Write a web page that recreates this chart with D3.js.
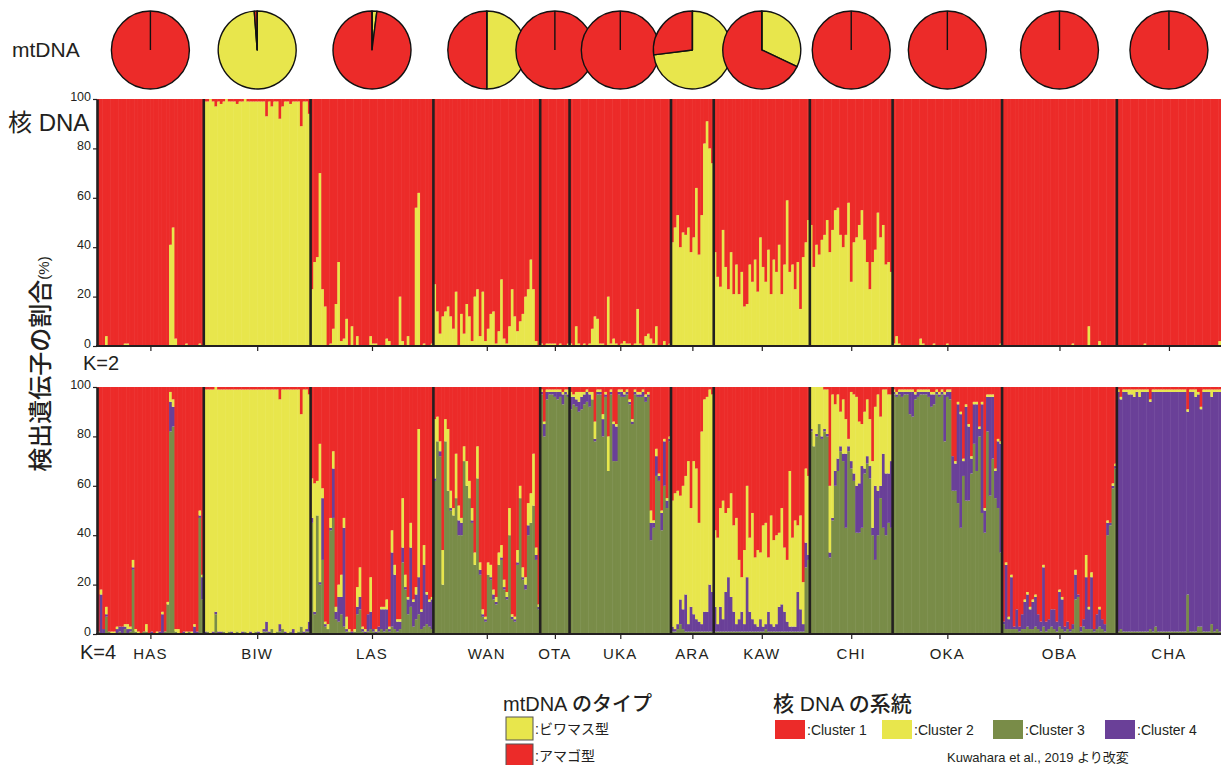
<!DOCTYPE html>
<html><head><meta charset="utf-8">
<script src="https://cdn.jsdelivr.net/npm/d3@7"></script>
<style>
body{margin:0;background:#fff;}
svg text{font-family:"Liberation Sans",Arial,"Noto Sans CJK JP",sans-serif;fill:#231f20;}
</style></head><body>
<svg id="c" width="1221" height="765"></svg>
<script>
// ---------------- DATA ----------------
const populations = ["HAS","BIW","LAS","WAN","OTA","UKA","ARA","KAW","CHI","OKA","OBA","CHA"];
// mtDNA: % of ビワマス型 (rest = アマゴ型)
const mtBiwamasu = [0,98.8,2,50,0,0,73,32,0,0,0,0];

// K=2: Cluster 2 (%) per individual; Cluster 1 = remainder
const K2_HAS = [0,0,0,4,0,0,0,0,0,0,1,1,0,0,0,0,0,0,0,0,0,0,0,0,0,0,0,41,48,3,0,0,0,1,0,0,0,0,1,0];
const K2_BIW = [99,99,100,99,97,99,98,99,100,99,99,99,98,99,99,100,99,99,99,99,99,99,99,93,99,97,99,99,92,97,99,99,98,99,99,99,89,99,99,94];
const K2_LAS = [23,34,36,70,23,16,0,1,7,17,34,2,3,11,0,8,0,4,0,0,0,0,4,1,1,0,0,0,3,2,0,0,0,20,2,0,4,0,0,56,62,0,1,0,0,1];
const K2_WAN = [25,14,5,12,14,16,12,7,22,0,13,5,17,12,2,20,23,4,22,2,7,13,14,1,6,27,3,1,8,23,12,6,10,13,20,23,35,23,2,0];
const K2_OTA = [1,0,1,1,1,1,0,1,0,0,1];
const K2_UKA = [1,0,8,1,0,1,0,1,7,12,11,1,1,0,20,1,3,1,0,1,2,1,1,0,1,15,1,0,4,5,3,1,8,0,0,2,0,1];
const K2_ARA = [42,48,53,40,46,45,48,38,44,64,37,53,82,91,80,74];
const K2_KAW = [38,28,24,47,32,23,38,21,33,21,30,16,17,33,26,35,22,44,32,26,39,21,35,30,41,21,33,59,30,33,23,34,15,36,42,51];
const K2_CHI = [49,32,41,37,43,45,51,38,47,55,56,45,40,45,58,26,42,44,49,55,43,34,23,34,39,54,44,49,33,34,30];
const K2_OKA = [1,4,1,0,0,0,0,0,0,0,3,1,0,0,0,1,0,0,0,0,1,0,0,0,0,0,0,0,0,0,0,0,0,0,0,0,0,0,0,0,1];
const K2_OBA = [0,0,0,0,0,0,0,0,0,0,0,0,0,0,0,0,0,0,0,0,0,0,0,0,0,0,1,0,0,0,0,0,8,0,0,0,2,0,0,0,0,0,0];
const K2_CHA = [0,0,0,0,0,0,0,0,0,0,1,0,0,0,0,0,0,0,0,0,0,0,0,0,0,0,0,0,0,0,0,0,0,0,0,0,0,0,2];

// K=4: per individual [Cluster 3, Cluster 4, Cluster 2] (%); Cluster 1 = remainder
const K4_HAS = [[1,0,0],[0,16,2],[0,2,0],[7,1,3],[1,0,0],[0,0,1],[0,0,1],[0,2,1],[1,2,0],[0,3,0],
 [2,1,1],[0,2,2],[1,1,1],[26,1,3],[1,0,1],[0,0,1],[0,0,0],[1,0,0],[1,0,3],[0,0,0],
 [0,1,0],[0,0,0],[0,0,1],[0,1,0],[0,8,1],[1,0,0],[12,0,1],[82,12,4],[84,8,3],[1,0,1],
 [0,0,2],[0,0,0],[0,1,0],[0,0,1],[1,0,0],[0,0,1],[0,3,1],[0,1,0],[47,1,2],[14,9,1]];
const K4_BIW = [[0,1,98],[1,0,98],[0,0,99],[0,1,98],[8,1,91],[0,1,98],[0,1,98],[1,0,98],[0,0,99],[1,0,98],
 [0,1,98],[0,0,99],[1,0,98],[0,0,99],[0,1,98],[1,0,98],[0,0,99],[0,1,98],[0,0,99],[1,0,98],
 [0,1,98],[0,0,99],[1,1,97],[1,4,94],[0,1,98],[2,0,97],[0,0,99],[1,0,98],[1,3,91],[2,0,97],
 [0,1,98],[0,0,99],[1,0,98],[0,2,97],[0,0,99],[1,0,98],[3,0,86],[0,1,98],[1,1,97],[1,4,92]];
const K4_LAS = [[45,2,16],[8,1,52],[48,0,14],[20,1,56],[30,25,4],[3,1,1],[2,0,2],[42,1,4],[47,20,7],[6,3,2],
 [5,10,5],[8,7,9],[3,40,4],[1,1,5],[1,0,1],[0,1,0],[1,0,1],[8,3,8],[10,5,12],[1,1,1],
 [0,1,1],[1,7,0],[2,7,14],[1,1,0],[0,1,1],[1,2,0],[2,8,1],[1,9,1],[2,8,4],[1,1,1],
 [3,30,9],[2,22,4],[1,4,1],[2,3,1],[29,6,20],[18,1,5],[8,6,1],[11,24,10],[3,10,1],[6,10,3],
 [8,15,60],[2,7,1],[3,25,8],[4,12,1],[3,10,1],[2,12,1]];
const K4_WAN = [[62,1,24],[78,0,10],[72,2,4],[20,0,14],[78,0,9],[58,0,25],[50,1,7],[48,0,3],[55,0,18],[40,6,6],
 [40,5,2],[70,0,6],[60,0,10],[55,0,7],[45,1,5],[28,0,5],[63,0,13],[24,2,3],[7,1,2],[5,1,1],
 [24,0,5],[22,1,5],[14,2,2],[12,1,2],[28,0,5],[30,1,5],[18,1,3],[14,1,2],[40,0,11],[6,1,1],
 [5,1,1],[28,1,5],[55,0,5],[22,1,4],[18,2,3],[40,4,9],[45,0,12],[52,0,21],[30,2,3],[10,1,1]];
const K4_OTA = [[97,1,1],[80,5,1],[95,3,1],[97,1,1],[97,1,1],[96,2,1],[95,3,1],[96,2,1],[93,4,1],[97,1,1],[96,1,2]];
const K4_UKA = [[91,5,2],[93,3,1],[92,3,3],[90,4,4],[91,5,2],[93,4,1],[94,4,1],[92,5,1],[95,0,3],[78,1,7],
 [97,1,1],[97,1,1],[80,7,2],[96,1,1],[66,0,14],[97,1,1],[70,15,1],[70,14,1],[97,1,1],[96,2,1],
 [96,1,1],[97,1,1],[93,1,1],[85,1,1],[97,1,1],[96,1,1],[96,1,1],[96,2,1],[94,2,1],[96,1,1],
 [38,7,5],[43,2,1],[64,8,3],[62,2,1],[42,7,1],[60,18,1],[51,3,1],[78,1,1]];
const K4_ARA = [[1,2,51],[1,1,55],[2,2,54],[4,10,42],[2,8,50],[1,15,48],[1,3,66],[1,10,40],[1,7,62],[1,5,61],
 [1,4,40],[1,3,78],[1,8,86],[1,8,87],[1,19,79],[1,16,80]];
const K4_KAW = [[1,10,31],[1,3,35],[1,10,40],[1,5,48],[1,16,32],[1,22,28],[1,14,42],[1,8,35],[1,3,43],[1,5,24],
 [1,8,14],[1,3,30],[1,22,37],[1,8,30],[1,5,43],[1,3,27],[1,2,31],[1,5,27],[1,2,41],[2,2,41],
 [1,8,22],[1,3,44],[1,2,35],[1,3,36],[1,10,30],[1,11,39],[1,8,26],[1,4,25],[1,2,63],[1,2,36],
 [1,2,43],[1,16,27],[1,9,38],[1,3,17],[27,10,30],[30,2,32]];
const K4_CHI = [[82,1,17],[76,0,24],[80,1,19],[85,0,15],[79,1,20],[82,1,16],[80,1,18],[31,2,27],[46,1,50],[60,6,27],
 [66,5,26],[74,2,14],[70,3,22],[43,30,14],[74,2,3],[67,3,28],[62,3,32],[41,19,36],[41,20,25],[43,25,17],
 [65,2,23],[69,3,23],[63,5,19],[40,3,27],[30,30,32],[40,18,39],[55,5,28],[43,30,26],[40,25,34],[45,20,32],
 [43,27,27]];
const K4_OKA = [[97,1,1],[96,1,1],[97,1,1],[96,2,1],[97,1,1],[97,1,1],[89,9,1],[88,10,1],[95,2,1],[96,2,1],
 [97,1,1],[97,1,1],[97,1,1],[96,2,1],[92,5,1],[93,4,1],[97,1,1],[96,1,1],[97,1,1],[78,19,1],
 [96,2,1],[95,3,1],[58,14,0],[58,11,1],[53,40,1],[43,46,1],[64,6,1],[54,38,1],[54,30,1],[65,6,1],
 [77,16,1],[66,27,1],[80,3,1],[49,44,1],[41,9,1],[82,14,1],[56,40,1],[71,25,1],[55,11,1],[51,27,1],
 [33,44,1]];
const K4_OBA = [[4,1,0],[2,26,1],[2,4,1],[2,21,1],[2,1,0],[2,8,0],[1,2,0],[2,6,0],[2,11,1],[3,13,1],
 [2,8,1],[2,11,1],[3,12,1],[2,6,0],[1,4,0],[3,24,1],[1,4,0],[2,4,0],[3,7,0],[2,8,0],
 [1,4,0],[3,14,1],[2,12,1],[1,2,0],[2,3,0],[1,1,0],[2,2,0],[14,10,2],[15,1,0],[1,2,0],
 [3,3,0],[2,21,9],[2,8,1],[2,21,2],[1,1,0],[2,6,0],[3,7,1],[2,4,0],[1,3,0],[40,5,1],
 [44,1,0],[59,1,1],[67,1,1]];
const K4_CHA = [[1,97,1],[2,93,1],[1,97,1],[1,97,1],[1,96,2],[1,96,2],[1,95,3],[1,97,1],[1,95,3],[1,97,1],
 [1,97,1],[1,97,1],[2,92,1],[1,97,1],[3,95,1],[1,97,1],[1,97,1],[1,97,1],[1,97,1],[1,97,1],
 [1,97,1],[1,97,1],[1,97,1],[1,97,1],[1,97,1],[1,97,1],[16,74,1],[1,97,1],[1,97,1],[1,95,3],
 [3,94,1],[3,88,1],[1,97,1],[1,97,1],[1,97,1],[4,92,3],[1,97,1],[2,96,1],[1,97,1]];

const yTicks = [0,20,40,60,80,100];
const clusterNames = [":Cluster 1",":Cluster 2",":Cluster 3",":Cluster 4"];
const mtNames = [":ビワマス型",":アマゴ型"];

// ---------------- CHART ----------------
const K2all = [K2_HAS,K2_BIW,K2_LAS,K2_WAN,K2_OTA,K2_UKA,K2_ARA,K2_KAW,K2_CHI,K2_OKA,K2_OBA,K2_CHA];
const K4all = [K4_HAS,K4_BIW,K4_LAS,K4_WAN,K4_OTA,K4_UKA,K4_ARA,K4_KAW,K4_CHI,K4_OKA,K4_OBA,K4_CHA];
const C = {c1:"#ec2b29", c2:"#e8e64c", c3:"#798c48", c4:"#6a4098"};
const ink = "#231f20";

const indiv = [];
const popInfo = [];
populations.forEach((p,pi)=>{
  const start = indiv.length;
  K2all[pi].forEach((v,j)=>indiv.push({pop:p, k2:v, k4:K4all[pi][j]}));
  popInfo.push({name:p, start, end:indiv.length-1});
});

const svg = d3.select("#c");
const x = d3.scaleBand().domain(d3.range(indiv.length)).range([97,1221]).padding(0);
const bw = x.bandwidth();
popInfo.forEach(p=>{ p.x0 = x(p.start); p.x1 = x(p.end)+bw; p.cx=(p.x0+p.x1)/2; });
const centerScale = d3.scaleOrdinal().domain(populations).range(popInfo.map(p=>p.cx));

const yK2 = d3.scaleLinear().domain([0,100]).range([346,99]);
const yK4 = d3.scaleLinear().domain([0,100]).range([634,387]);

function drawPanel(y, segFn){
  const g = svg.append("g");
  indiv.forEach((d,i)=>{
    segFn(d).forEach(s=>{
      if (s[1]-s[0] <= 0) return;
      g.append("rect").attr("x",x(i)).attr("width",bw+0.5)
        .attr("y",y(s[1])).attr("height",y(s[0])-y(s[1])).attr("fill",s[2]);
    });
  });
  // population separators
  popInfo.slice(1).forEach(p=>{
    g.append("line").attr("x1",p.x0).attr("x2",p.x0).attr("y1",y(100)).attr("y2",y(0))
     .attr("stroke",ink).attr("stroke-width",2.6);
  });
  // y axis
  const ax = g.append("g").attr("transform","translate(97,0)")
    .call(d3.axisLeft(y).tickValues(yTicks).tickSize(4).tickSizeOuter(0).tickPadding(2));
  ax.select(".domain").attr("stroke",ink).attr("stroke-width",2.6);
  ax.selectAll(".tick line").attr("stroke",ink).attr("stroke-width",1.2);
  ax.selectAll(".tick text").attr("font-family",'"Liberation Sans Narrow","Liberation Sans",sans-serif')
    .attr("font-size",12.5).attr("fill","#333").attr("dy","0.1em");
  // x axis baseline + ticks
  g.append("line").attr("x1",96).attr("x2",1221).attr("y1",y(0)).attr("y2",y(0))
    .attr("stroke",ink).attr("stroke-width",2);
  const bx = g.append("g").attr("transform",`translate(0,${y(0)})`)
    .call(d3.axisBottom(centerScale).tickSize(5).tickFormat(""));
  bx.select(".domain").remove();
  bx.selectAll(".tick line").attr("stroke",ink).attr("stroke-width",1.2);
  return g;
}

drawPanel(yK2, d=>[[0,d.k2,C.c2],[d.k2,100,C.c1]]);
drawPanel(yK4, d=>{
  const [g3,p4,y2] = d.k4;
  const a=g3, b=a+p4, c=b+y2;
  return [[0,a,C.c3],[a,b,C.c4],[b,c,C.c2],[c,100,C.c1]];
});

// population labels
svg.append("g").selectAll("text").data(popInfo).join("text")
  .attr("x",d=>d.cx).attr("y",659).attr("text-anchor","middle")
  .attr("font-family",'"Liberation Sans Narrow","Liberation Sans",sans-serif')
  .attr("font-size",15).attr("letter-spacing",1.2).text(d=>d.name);

// pies
const pie = d3.pie().sort(null).value(d=>d.v);
const arc = d3.arc().innerRadius(0).outerRadius(39);
popInfo.forEach((p,i)=>{
  const g = svg.append("g").attr("transform",`translate(${p.cx},50)`);
  const data = [{v:mtBiwamasu[i], c:C.c2},{v:100-mtBiwamasu[i], c:C.c1}];
  g.selectAll("path").data(pie(data).filter(d=>d.data.v>0)).join("path")
    .attr("d",arc).attr("fill",d=>d.data.c).attr("stroke","#111").attr("stroke-width",1.4)
    .attr("stroke-linejoin","round");
  g.append("line").attr("x1",0).attr("y1",0).attr("x2",0).attr("y2",-39)
    .attr("stroke","#111").attr("stroke-width",1.4);
});

// side labels
svg.append("text").attr("x",12).attr("y",57).attr("font-size",21).text("mtDNA");
svg.append("text").attr("x",8).attr("y",131).attr("font-size",24).text("核 DNA");
svg.append("text").attr("x",83).attr("y",370).attr("font-size",20).text("K=2");
svg.append("text").attr("x",80).attr("y",659).attr("font-size",20).text("K=4");
const yt = svg.append("text").attr("transform","translate(49,364) rotate(-90)")
  .attr("text-anchor","middle").attr("font-family",'"Noto Sans CJK JP",sans-serif')
  .attr("font-size",24).attr("font-weight",500);
yt.append("tspan").text("検出遺伝子の割合");
yt.append("tspan").attr("font-size",15).text("(%)");

// legends
svg.append("text").attr("x",503).attr("y",711).attr("font-size",20).attr("font-weight",500)
  .attr("font-family",'"Noto Sans CJK JP",sans-serif').text("mtDNA のタイプ");
const mtCols = [C.c2, C.c1];
mtNames.forEach((n,i)=>{
  svg.append("rect").attr("x",506).attr("y",717+i*27).attr("width",27).attr("height",23)
    .attr("fill",mtCols[i]).attr("stroke","#555").attr("stroke-width",1);
  svg.append("text").attr("x",535).attr("y",734+i*27).attr("font-size",14)
    .attr("font-family",'"Noto Sans CJK JP",sans-serif').text(n);
});
svg.append("text").attr("x",773).attr("y",711).attr("font-size",21).attr("font-weight",500)
  .attr("font-family",'"Noto Sans CJK JP",sans-serif').text("核 DNA の系統");
const clCols = [C.c1,C.c2,C.c3,C.c4];
const clX = [775,882,993,1105];
clusterNames.forEach((n,i)=>{
  svg.append("rect").attr("x",clX[i]).attr("y",720).attr("width",30).attr("height",19).attr("fill",clCols[i]);
  svg.append("text").attr("x",clX[i]+32).attr("y",735).attr("font-size",14)
    .attr("font-family",'"Liberation Sans Narrow","Liberation Sans",sans-serif').text(n);
});
svg.append("text").attr("x",947).attr("y",762).attr("font-size",13).attr("fill","#333")
  .attr("font-family",'"Liberation Serif","Noto Sans CJK JP",serif').text("Kuwahara et al., 2019 より改変");
</script>
</body></html>
